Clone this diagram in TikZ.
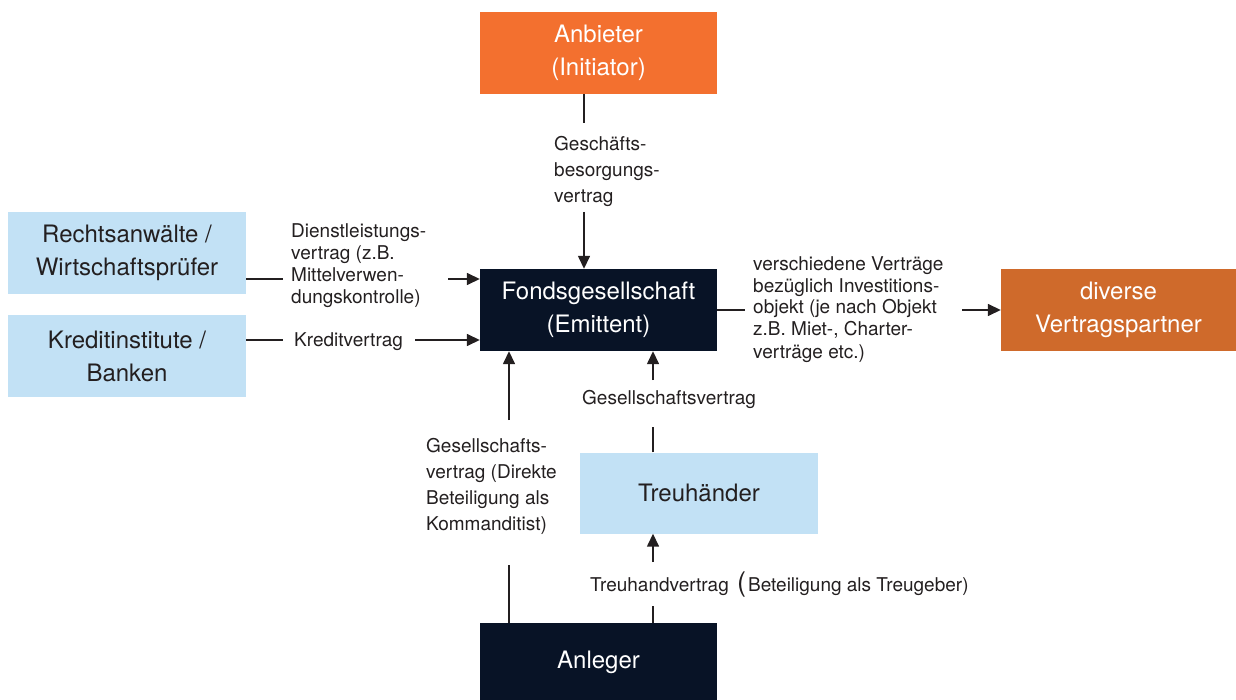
\documentclass[tikz,border=0pt]{standalone}
\usepackage{fontspec}
\setmainfont{TeX Gyre Heros}
\usetikzlibrary{arrows.meta}
\definecolor{orangeA}{RGB}{243,112,47}
\definecolor{orangeB}{RGB}{207,106,43}
\definecolor{lightblue}{RGB}{194,225,245}
\definecolor{navy}{RGB}{8,19,38}
\definecolor{txt}{RGB}{35,31,32}
\tikzset{
  box/.style={minimum width=237pt, minimum height=82pt, inner sep=0pt, align=center,
    font=\fontsize{24}{33}\selectfont},
  orangebox/.style={box, fill=orangeA, text=white},
  orangebox2/.style={box, fill=orangeB, text=white},
  bluebox/.style={box, fill=lightblue, text=txt},
  navybox/.style={box, fill=navy, text=white},
  lbl/.style={anchor=base west, inner sep=0pt, align=left, text=txt},
  lblA/.style={lbl, font=\fontsize{19}{22}\selectfont},
  lblB/.style={lbl, font=\fontsize{19}{26}\selectfont},
  conn/.style={line width=1.5pt, draw=txt},
  arr/.style={conn, -{Triangle[length=13pt,width=12pt]}}
}
\begin{document}
\begin{tikzpicture}[x=1pt,y=-1pt]
\useasboundingbox (0,0) rectangle (1236,700);
% boxes
\node[orangebox] (anb) at (598.5,53) {Anbieter\\(Initiator)};
\node[bluebox, minimum width=238pt] (recht) at (127,253) {Rechtsanwälte /\\Wirtschaftsprüfer};
\node[bluebox, minimum width=238pt] (kredit) at (127,356) {Kreditinstitute /\\Banken};
\node[navybox] (fonds) at (598.5,310) {Fondsgesellschaft\\(Emittent)};
\node[orangebox2, minimum width=235pt] (div) at (1118.5,310) {diverse\\Vertragspartner};
\node[bluebox, minimum width=238pt, minimum height=81pt] (treu) at (699,493) {Treuhänder};
\node[navybox, minimum height=78pt] (anl) at (598.5,662) {Anleger};
% labels (anchor = baseline of last line)
\node[lblB] (l1) at (554,203) {Geschäfts-\\besorgungs-\\vertrag};
\node[lblA] (l2) at (291,304) {Dienstleistungs-\\vertrag (z.B.\\Mittelverwen-\\dungskontrolle)};
\node[lblA] (l3) at (294,346) {Kreditvertrag};
\node[lblA] (l4) at (753,358) {verschiedene Verträge\\bezüglich Investitions-\\objekt (je nach Objekt\\z.B. Miet-, Charter-\\verträge etc.)};
\node[lblB] (l5) at (426,530) {Gesellschafts-\\vertrag (Direkte\\Beteiligung als\\Kommanditist)};
\node[lblA] (l6) at (582,404) {Gesellschaftsvertrag};
\node[lblA] (l7) at (590,591) {Treuhandvertrag\hspace{3pt} {\fontsize{27}{27}\selectfont(}\hspace{2pt}Beteiligung als Treugeber)};
% connector coordinates
\coordinate (a1) at (584,123); \coordinate (a2) at (584,212);
\coordinate (b1) at (283,279); \coordinate (b2) at (448,279);
\coordinate (k1) at (283,340); \coordinate (k2) at (415,340);
\coordinate (d1) at (745,310); \coordinate (d2) at (962,310);
\coordinate (g1) at (509,565); \coordinate (g2) at (509,420);
\coordinate (t1) at (653,427); \coordinate (t2) at (653,380);
\coordinate (h1) at (653,606); \coordinate (h2) at (653,562);
% connectors
\draw[conn] (anb.south -| a1) -- (a1);
\draw[arr] (a2) -- (fonds.north -| a2);
\draw[conn] (recht.east |- b1) -- (b1);
\draw[arr] (b2) -- (fonds.west |- b2);
\draw[conn] (kredit.east |- k1) -- (k1);
\draw[arr] (k2) -- (fonds.west |- k2);
\draw[conn] (fonds.east |- d1) -- (d1);
\draw[arr] (d2) -- (div.west |- d2);
\draw[conn] (anl.north -| g1) -- (g1);
\draw[arr] (g2) -- (fonds.south -| g2);
\draw[conn] (treu.north -| t1) -- (t1);
\draw[arr] (t2) -- (fonds.south -| t2);
\draw[conn] (anl.north -| h1) -- (h1);
\draw[arr] (h2) -- (treu.south -| h2);
\end{tikzpicture}
\end{document}
